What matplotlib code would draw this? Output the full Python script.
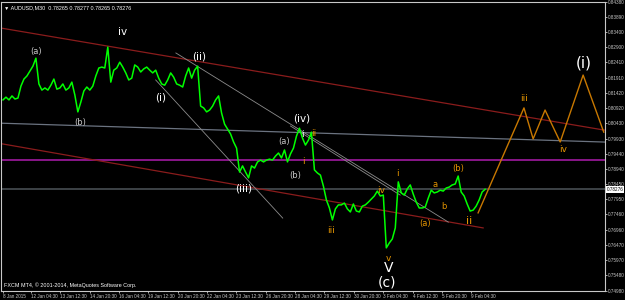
"""AUDUSD M30 chart with Elliott wave counts, redrawn in the MT4 style"""
import numpy as np
import matplotlib.pyplot as plt

# closes sampled every ~6.5 bars (M30) from the first bar on the chart
STEP_BARS = 6.53
closes = [
    0.8119, 0.8128, 0.8119, 0.8132, 0.8122, 0.8125, 0.8164, 0.8187, 0.8197, 0.8213,
    0.8229, 0.8255, 0.8171, 0.8151, 0.8158, 0.8151, 0.8167, 0.8187, 0.8154, 0.8158,
    0.8171, 0.8151, 0.8158, 0.8177, 0.8135, 0.8080, 0.8112, 0.8148, 0.8161, 0.8151,
    0.8164, 0.8197, 0.8223, 0.8226, 0.8223, 0.8291, 0.8177, 0.8216, 0.8223, 0.8242,
    0.8226, 0.8207, 0.8184, 0.8190, 0.8233, 0.8226, 0.8210, 0.8220, 0.8226, 0.8216,
    0.8207, 0.8216, 0.8190, 0.8171, 0.8167, 0.8184, 0.8207, 0.8193, 0.8171, 0.8167,
    0.8161, 0.8197, 0.8223, 0.8190, 0.8216, 0.8229, 0.8099, 0.8093, 0.8080, 0.8086,
    0.8099, 0.8119, 0.8132, 0.8076, 0.8040, 0.8024, 0.8008, 0.7982, 0.7962, 0.7884,
    0.7904, 0.7884, 0.7865, 0.7904, 0.7897, 0.7917, 0.7923, 0.7917, 0.7923, 0.7926,
    0.7923, 0.7936, 0.7946, 0.7930, 0.7956, 0.7917, 0.7943, 0.7962, 0.8001, 0.8027,
    0.7995, 0.7972, 0.7988, 0.8014, 0.7891, 0.7881, 0.7874, 0.7838, 0.7793, 0.7767,
    0.7728, 0.7764, 0.7777, 0.7777, 0.7783, 0.7764, 0.7754, 0.7780, 0.7757, 0.7754,
    0.7773, 0.7777, 0.7786, 0.7796, 0.7806, 0.7822, 0.7806, 0.7809, 0.7637, 0.7653,
    0.7666, 0.7702, 0.7852, 0.7816, 0.7809, 0.7829, 0.7842, 0.7812, 0.7786, 0.7767,
    0.7767, 0.7770, 0.7799, 0.7825, 0.7816, 0.7819, 0.7825, 0.7822, 0.7832, 0.7835,
    0.7842, 0.7845, 0.7871, 0.7819, 0.7806, 0.7780, 0.7757, 0.7760, 0.7773, 0.7793,
    0.7819, 0.7828,
]
last_price = 0.78276
magenta_level = 0.7923

# trend lines: (bar1, price1, bar2, price2)
upper_channel = (0, 0.8352, 1306, 0.8022)
lower_channel = (-10, 0.7978, 1047, 0.7702)
grey_channel = (0, 0.8043, 1306, 0.7982)
thin_lines = [
    (333, 0.8184, 610, 0.7734),
    (377, 0.8272, 971, 0.7721),
    (627, 0.8034, 866, 0.7809),
]

# projected path of the count
proj_bars = [1036, 1136, 1156, 1182, 1215, 1265, 1310]
proj_prices = [0.7751, 0.8093, 0.7992, 0.8086, 0.7982, 0.8200, 0.8014]

# wave labels: text, bar, price, colour, size
wave_labels = [
    ("(a)", 72, 0.8278, "#c8c8c8", 6),
    ("iv", 261, 0.8340, "white", 7.5),
    ("(ii)", 427, 0.8259, "white", 7.5),
    ("(i)", 344, 0.8128, "white", 7.5),
    ("(b)", 168, 0.8047, "#c8c8c8", 6),
    ("(iii)", 525, 0.7832, "white", 7.5),
    ("(iv)", 651, 0.8060, "white", 7.5),
    ("(a)", 612, 0.7982, "#c8c8c8", 6),
    ("i", 653, 0.8005, "white", 6.5),
    ("(b)", 638, 0.7874, "#c8c8c8", 6),
    ("V", 840, 0.7571, "white", 10),
    ("(c)", 838, 0.7523, "white", 10),
    ("(i)", 1267, 0.8239, "white", 11),
    ("i", 655, 0.7917, "#e39400", 6.5),
    ("ii", 677, 0.8008, "#e39400", 6.5),
    ("iii", 716, 0.7692, "#e39400", 6.5),
    ("iv", 825, 0.7825, "#e39400", 6.5),
    ("v", 840, 0.7604, "#e39400", 6.5),
    ("i", 860, 0.7878, "#e39400", 6.5),
    ("a", 943, 0.7842, "#e39400", 6),
    ("b", 962, 0.7773, "#e39400", 6),
    ("(a)", 921, 0.7715, "#e39400", 6),
    ("(b)", 993, 0.7897, "#e39400", 6),
    ("ii", 1017, 0.7724, "#e39400", 8),
    ("iii", 1136, 0.8122, "#e39400", 6.5),
    ("iv", 1221, 0.7956, "#e39400", 6.5),
]

time_ticks = [0, 61, 125, 189, 253, 317, 381, 445, 509, 573, 637, 701, 765, 829, 893, 957, 1021]
time_labels = [
    "8 Jan 2015", "12 Jan 04:30", "13 Jan 12:30", "14 Jan 20:30", "16 Jan 04:30",
    "19 Jan 12:30", "20 Jan 20:30", "22 Jan 04:30", "23 Jan 12:30", "26 Jan 20:30",
    "28 Jan 04:30", "29 Jan 12:30", "30 Jan 20:30", "3 Feb 04:30", "4 Feb 12:30",
    "5 Feb 20:30", "9 Feb 04:30",
]
price_ticks = [0.74980, 0.75480, 0.75970, 0.76470, 0.76960, 0.77460, 0.77950, 0.78450,
               0.78940, 0.79440, 0.79930, 0.80430, 0.80920, 0.81420, 0.81910, 0.82410,
               0.82900, 0.83400, 0.83890, 0.84380]

SMALL = dict(family="Liberation Sans", size=3.3)


def plot():
    """Draws the chart and saves it"""
    fig = plt.figure(figsize=(6.25, 3), dpi=100, facecolor="black")
    ax = fig.add_axes([1 / 625, 9 / 300, 604 / 625, 289 / 300])
    ax.set_facecolor("black")
    ax.set_xlim(-4.3, 1312.7)
    ax.set_ylim(0.74965, 0.84378)

    # horizontal levels
    ax.axhline(magenta_level, color="#a01aa0", lw=1.2, zorder=1)
    ax.axhline(last_price, color="#474d52", lw=1.2, zorder=1)

    # channels
    for (x1, y1, x2, y2), col in [(upper_channel, "#8a1c1c"), (grey_channel, "#6b7380")]:
        ax.axline((x1, y1), (x2, y2), color=col, lw=0.9, zorder=2)
    x1, y1, x2, y2 = lower_channel
    ax.plot([x1, x2], [y1, y2], color="#8a1c1c", lw=0.9, zorder=2)
    for x1, y1, x2, y2 in thin_lines:
        ax.plot([x1, x2], [y1, y2], color="#8c8c8c", lw=0.6, zorder=2)

    # price
    bars = np.arange(len(closes)) * STEP_BARS
    ax.plot(bars, closes, color="#00ff00", lw=1.1, zorder=3)

    # projection
    ax.plot(proj_bars, proj_prices, color="#c87800", lw=1.0, zorder=3)

    for txt, bx, py, col, size in wave_labels:
        ax.text(bx, py, txt, color=col, fontsize=size, ha="center", va="center",
                family="DejaVu Sans", zorder=4)

    # axes styling like MT4
    for side in ["top", "bottom", "left", "right"]:
        ax.spines[side].set_color("#c8c8c8")
        ax.spines[side].set_linewidth(0.8)
    ax.yaxis.tick_right()
    ax.set_yticks(price_ticks)
    ax.set_yticklabels([f"{p:.5f}" for p in price_ticks], fontdict=SMALL)
    ax.set_xticks(time_ticks)
    ax.set_xticklabels(time_labels, fontdict=SMALL)
    ax.tick_params(axis="both", colors="#c8c8c8", length=1.5, width=0.6, pad=0.6)
    for lbl in ax.get_xticklabels():
        lbl.set_ha("left")

    ax.text(1.003, last_price, f"{last_price:.5f}", transform=ax.get_yaxis_transform(),
            color="black", va="center", ha="left", fontdict=SMALL,
            bbox=dict(facecolor="white", edgecolor="none", pad=0.5), clip_on=False)
    ax.text(0.005, 0.988, "\u25bc AUDUSD,M30  0.78265 0.78277 0.78265 0.78276",
            transform=ax.transAxes, color="white", va="top", ha="left",
            family=["Liberation Sans", "DejaVu Sans"], size=3.9)
    ax.text(0.005, 0.012, "FXCM MT4, \u00a9 2001-2014, MetaQuotes Software Corp.",
            transform=ax.transAxes, color="white", va="bottom", ha="left",
            family="Liberation Sans", size=3.9)

    fig.savefig("out.png", dpi=100, facecolor="black")


if __name__ == "__main__":
    plot()
